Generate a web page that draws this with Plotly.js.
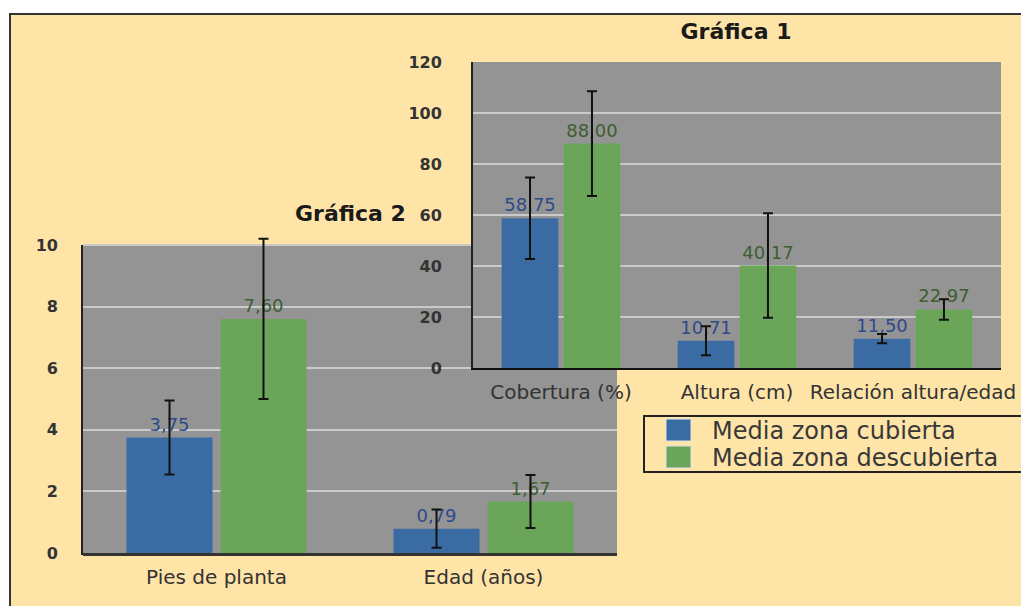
<!DOCTYPE html>
<html>
<head>
<meta charset="utf-8">
<script src="https://cdn.plot.ly/plotly-3.0.1.min.js"></script>
<style>
  html, body { margin: 0; padding: 0; background: #ffffff; }
  #chart { width: 1021px; height: 606px; }
</style>
</head>
<body>
<div id="chart"></div>
<script>
// ---- Data ----
const seriesNames = ['Media zona cubierta', 'Media zona descubierta'];

// Gráfica 1
const g1Categories = ['Cobertura (%)', 'Altura (cm)', 'Relación altura/edad'];
const g1Cubierta = [58.75, 10.71, 11.50];
const g1CubiertaErr = [16, 5.7, 1.8];
const g1Descubierta = [88.00, 40.17, 22.97];
const g1DescubiertaErr = [20.5, 20.5, 4];
const g1TickVals = [0, 20, 40, 60, 80, 100, 120];

// Gráfica 2
const g2Categories = ['Pies de planta', 'Edad (años)'];
const g2Cubierta = [3.75, 0.79];
const g2CubiertaErr = [1.2, 0.62];
const g2Descubierta = [7.60, 1.67];
const g2DescubiertaErr = [2.6, 0.86];
const g2TickVals = [0, 2, 4, 6, 8, 10];

const titles = ['Gráfica 1', 'Gráfica 2'];

// ---- Styling ----
const W = 1021, H = 606;
const px = v => v / W;
const py = v => 1 - v / H;
const FONT = 'DejaVu Sans, Arial, sans-serif';
const BLUE = '#3A6CA3', GREEN = '#6BA559';
const BLUE_TXT = '#2E4A8A', GREEN_TXT = '#3D5F30';
const BEIGE = '#FFE4A8', PLOTBG = '#949494', GRID = '#CACACA';

function barTrace(x, y, err, color, txtColor, name, xa, ya) {
  return {
    type: 'bar', x: x, y: y, name: name, xaxis: xa, yaxis: ya,
    marker: { color: color, line: { width: 0 } },
    error_y: { type: 'data', array: err, visible: true, color: '#111111', thickness: 2, width: 5 },
    texttemplate: '%{y:.2f}', textposition: 'outside', cliponaxis: false,
    textfont: { family: FONT, size: 18, color: txtColor },
    showlegend: false, hoverinfo: 'x+y'
  };
}

const data = [
  barTrace(g2Categories, g2Cubierta, g2CubiertaErr, BLUE, BLUE_TXT, seriesNames[0], 'x', 'y'),
  barTrace(g2Categories, g2Descubierta, g2DescubiertaErr, GREEN, GREEN_TXT, seriesNames[1], 'x', 'y'),
  barTrace(g1Categories, g1Cubierta, g1CubiertaErr, BLUE, BLUE_TXT, seriesNames[0], 'x2', 'y2'),
  barTrace(g1Categories, g1Descubierta, g1DescubiertaErr, GREEN, GREEN_TXT, seriesNames[1], 'x2', 'y2')
];

const catAxis = (dom, standoff) => ({
  domain: dom, showgrid: false, zeroline: false, showline: true,
  linecolor: '#333333', linewidth: 3, ticks: '', ticklabelstandoff: standoff,
  tickfont: { family: FONT, size: 20, color: '#333333' }, fixedrange: true
});
const valAxis = (dom, range, tv, anchor, standoff) => ({
  domain: dom, range: range, tickvals: tv, anchor: anchor,
  showgrid: true, gridcolor: GRID, gridwidth: 2, zeroline: false,
  showline: true, linecolor: '#222222', linewidth: 2, ticks: '',
  ticklabelstandoff: standoff,
  tickfont: { family: FONT, size: 16, color: '#333333', weight: 'bold' }, fixedrange: true
});

// Gráfica 2: 0 at y=553px, 10 at y=245px; range extended slightly so the top error cap is not clipped
const g2Top = 10.35;
const g2TopPx = 553 - (553 - 245) * g2Top / 10;

const yaxis2D = valAxis([1 - 553 / H, 1 - g2TopPx / H], [0, g2Top], g2TickVals, 'x', 24);
yaxis2D.showline = false;

const layout = {
  width: W, height: H, autosize: false,
  margin: { l: 0, r: 0, t: 0, b: 0, pad: 0 },
  paper_bgcolor: BEIGE, plot_bgcolor: PLOTBG,
  separators: ',.',
  barmode: 'group', bargap: 0.296, bargroupgap: 0.085,
  showlegend: false,
  title: {
    text: '<b>' + titles[0] + '</b>', x: px(736), xref: 'paper', xanchor: 'center',
    y: py(31), yref: 'paper', yanchor: 'middle',
    font: { family: FONT, size: 22, color: '#1a1a1a' }
  },
  xaxis: Object.assign(catAxis([px(83), px(617)], 4), { anchor: 'y' }),
  yaxis: yaxis2D,
  xaxis2: Object.assign(catAxis([px(473), px(1001)], 5), { anchor: 'y2', linewidth: 2, linecolor: '#111111' }),
  yaxis2: valAxis([1 - 368 / H, 1 - 62 / H], [0, 120], g1TickVals, 'x2', 26),
  annotations: [
    { text: '<b>' + titles[1] + '</b>', xref: 'paper', yref: 'paper', x: px(350), y: py(213),
      xanchor: 'center', yanchor: 'middle', showarrow: false,
      font: { family: FONT, size: 22, color: '#1a1a1a' } },
    { text: seriesNames[0], xref: 'paper', yref: 'paper', x: px(710), y: py(431),
      xanchor: 'left', yanchor: 'middle', showarrow: false,
      font: { family: FONT, size: 24, color: '#383838' } },
    { text: seriesNames[1], xref: 'paper', yref: 'paper', x: px(710), y: py(458),
      xanchor: 'left', yanchor: 'middle', showarrow: false,
      font: { family: FONT, size: 24, color: '#383838' } }
  ],
  shapes: [
    // white outer margins
    { type: 'rect', xref: 'paper', yref: 'paper', x0: 0, x1: 1, y0: py(13), y1: 1,
      fillcolor: '#ffffff', line: { width: 0 }, layer: 'below' },
    { type: 'rect', xref: 'paper', yref: 'paper', x0: 0, x1: px(9), y0: 0, y1: 1,
      fillcolor: '#ffffff', line: { width: 0 }, layer: 'below' },
    // beige strip hiding the extra headroom of Gráfica 2's plot area (below traces)
    { type: 'rect', xref: 'paper', yref: 'paper', x0: px(80), x1: px(620), y0: py(244), y1: py(g2TopPx - 2),
      fillcolor: BEIGE, line: { width: 0 }, layer: 'below' },
    // Gráfica 2 left axis line
    { type: 'line', xref: 'paper', yref: 'paper', x0: px(82), x1: px(82), y0: py(245), y1: py(555),
      line: { color: '#222222', width: 2 } },
    // frame border
    { type: 'line', xref: 'paper', yref: 'paper', x0: px(9), x1: 1, y0: py(14), y1: py(14),
      line: { color: '#333333', width: 2 } },
    { type: 'line', xref: 'paper', yref: 'paper', x0: px(10), x1: px(10), y0: py(13), y1: 0,
      line: { color: '#333333', width: 2 } },
    // legend box
    { type: 'rect', xref: 'paper', yref: 'paper', x0: px(644), x1: px(1030), y0: py(472), y1: py(416),
      fillcolor: BEIGE, line: { color: '#222222', width: 2 } },
    { type: 'rect', xref: 'paper', yref: 'paper', x0: px(666), x1: px(691), y0: py(441), y1: py(419),
      fillcolor: BLUE, line: { color: '#dfe4ea', width: 1 } },
    { type: 'rect', xref: 'paper', yref: 'paper', x0: px(666), x1: px(691), y0: py(468), y1: py(446),
      fillcolor: GREEN, line: { color: '#dfe4ea', width: 1 } }
  ]
};

Plotly.newPlot('chart', data, layout, { staticPlot: true, displayModeBar: false });
</script>
</body>
</html>
